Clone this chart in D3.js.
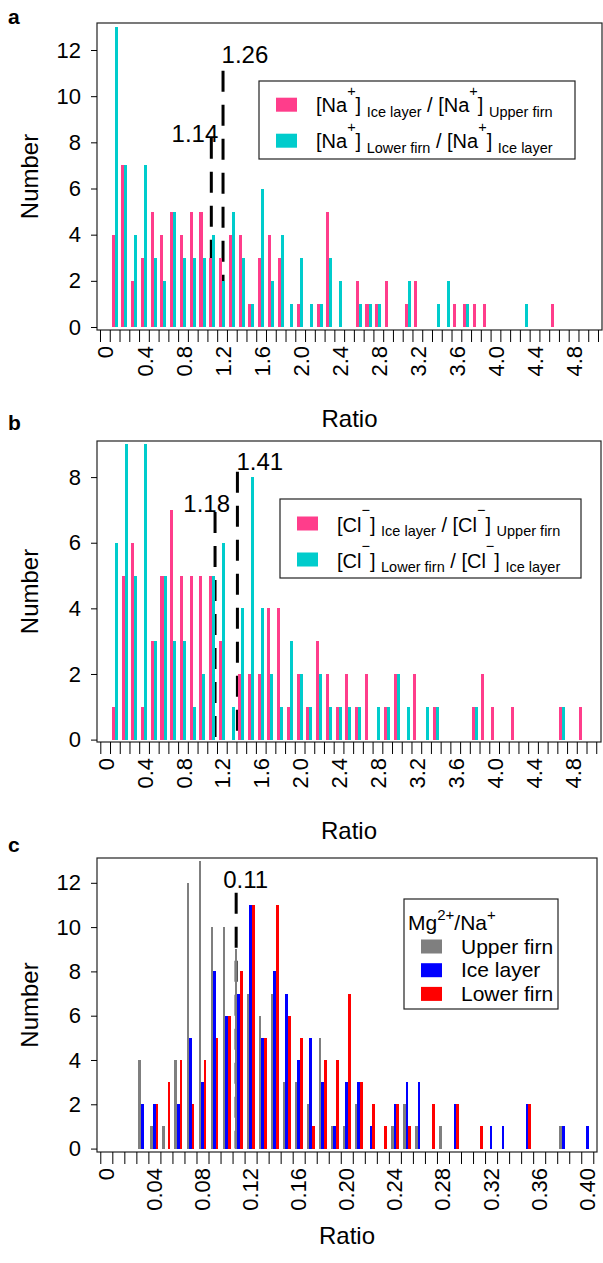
<!DOCTYPE html>
<html>
<head>
<meta charset="utf-8">
<script src="https://cdn.jsdelivr.net/npm/d3@7"></script>
<style>
  body { margin: 0; background: #fff; }
  svg text { font-family: "Liberation Sans", Arial, Helvetica, sans-serif; white-space: pre; }
</style>
</head>
<body>
<svg id="fig" width="603" height="1263"></svg>
<script>
// ---------- data ----------
// a: [Na+] ratios, 0.1 wide bins, first bin starts at 0.1
const naBinStart = 0.1
const naBinWidth = 0.1
const naIceUpper = [4, 7, 2, 3, 5, 4, 5, 4, 5, 5, 3, 3, 4, 4, 1, 3, 4, 3, 0, 1, 0, 1, 5, 0, 0, 2, 1, 1, 2, 0,
                    1, 2, 0, 0, 0, 1, 1, 1, 1, 0, 0, 0, 0, 0, 0, 1]
const naLowerIce = [13, 7, 4, 7, 3, 2, 5, 3, 3, 3, 4, 2, 5, 3, 1, 6, 2, 4, 1, 3, 1, 1, 3, 2, 0, 1, 1, 1, 0, 0,
                    2, 0, 0, 1, 2, 0, 1, 0, 0, 0, 0, 0, 1, 0, 0, 0]
const naMeans = [1.14, 1.26]

// b: [Cl-] ratios
const clBinStart = 0.1
const clBinWidth = 0.1
const clIceUpper = [1, 5, 6, 1, 3, 5, 7, 5, 5, 5, 5, 3, 0, 2, 2, 2, 4, 4, 1, 2, 1, 3, 2, 1, 2, 1, 2, 0, 1, 2,
                    0, 2, 0, 1, 0, 0, 0, 1, 2, 1, 0, 1, 0, 0, 0, 0, 1, 0, 1]
const clLowerIce = [6, 9, 5, 9, 3, 5, 3, 3, 1, 2, 5, 6, 1, 4, 8, 4, 2, 1, 3, 2, 1, 2, 1, 1, 1, 1, 0, 1, 1, 2,
                    1, 0, 1, 1, 0, 0, 0, 1, 0, 0, 0, 0, 0, 0, 0, 0, 1, 0, 0]
const clMeans = [1.18, 1.41]

// c: Mg2+/Na+ ratios, 0.01 wide bins from 0
const mgBinStart = 0
const mgBinWidth = 0.01
const mgUpper = [0, 0, 0, 4, 1, 1, 4, 12, 13, 10, 10, 9, 7, 6, 7, 3, 3, 2, 5, 1, 1, 2, 0, 0, 1, 2, 1, 0, 1, 0,
                 0, 0, 0, 0, 0, 0, 0, 0, 1, 0, 0]
const mgIce   = [0, 0, 0, 2, 2, 0, 2, 5, 3, 8, 6, 7, 11, 5, 8, 7, 4, 5, 3, 1, 3, 3, 1, 0, 2, 3, 3, 0, 0, 2,
                 0, 0, 1, 1, 0, 2, 0, 0, 1, 0, 1]
const mgLower = [0, 0, 0, 0, 2, 3, 4, 2, 4, 5, 6, 8, 11, 5, 11, 6, 5, 1, 4, 4, 7, 3, 2, 1, 2, 1, 0, 2, 0, 2,
                 0, 1, 0, 0, 0, 2, 0, 0, 0, 0, 0]
const mgMeans = [0.113]

// tick labels
const ratioLabelsAB = [0, 0.4, 0.8, 1.2, 1.6, 2.0, 2.4, 2.8, 3.2, 3.6, 4.0, 4.4, 4.8]
const ratioLabelsC = [0, 0.04, 0.08, 0.12, 0.16, 0.20, 0.24, 0.28, 0.32, 0.36, 0.40]
const countTicksA = [0, 2, 4, 6, 8, 10, 12]
const countTicksB = [0, 2, 4, 6, 8]
const countTicksC = [0, 2, 4, 6, 8, 10, 12]

// legend entries: [text, "sup" | "sub" | undefined]
const naLegend = [
    [["[Na"], ["+", "sup"], ["] "], ["Ice layer", "sub"], [" / [Na"], ["+", "sup"], ["] "], ["Upper firn", "sub"]],
    [["[Na"], ["+", "sup"], ["] "], ["Lower firn", "sub"], [" / [Na"], ["+", "sup"], ["] "], ["Ice layer", "sub"]]
]
const clLegend = [
    [["[Cl"], ["\u2212", "sup"], ["] "], ["Ice layer", "sub"], [" / [Cl"], ["\u2212", "sup"], ["] "], ["Upper firn", "sub"]],
    [["[Cl"], ["\u2212", "sup"], ["] "], ["Lower firn", "sub"], [" / [Cl"], ["\u2212", "sup"], ["] "], ["Ice layer", "sub"]]
]
const mgTitle = [["Mg"], ["2+", "sup"], ["/Na"], ["+", "sup"]]
const mgNames = ["Upper firn", "Ice layer", "Lower firn"]

const pink = "#ff3d8b"
const cyan = "#00cccc"

// ---------- drawing ----------
const svg = d3.select("#fig")

const richText = (sel, parts, size, subSize, supShift, subShift) => {
    let shift = 0
    parts.forEach(([t, kind]) => {
        const target = kind == "sup" ? supShift : kind == "sub" ? subShift : 0
        sel.append("tspan")
            .attr("dy", target - shift)
            .attr("font-size", kind ? subSize : size)
            .text(t)
        shift = target
    })
}

const panel = p => {
    const x = d3.scaleLinear().domain(p.xDomain).range([p.left, p.right])
    const y = d3.scaleLinear().domain(p.yDomain).range([p.bottom, p.top])
    const g = svg.append("g")
    const binPx = x(p.binWidth) - x(0)
    const bw = binPx * p.barFrac
    const n = p.series.length

    // dashed mean lines (behind bars)
    g.append("g")
        .selectAll("line")
        .data(p.means)
        .join("line")
        .attr("x1", (d, i) => x(d)).attr("x2", (d, i) => x(d))
        .attr("y1", (d, i) => y(p.meanStyle[i].top)).attr("y2", y(0))
        .attr("stroke", "#000")
        .attr("stroke-width", 3)
        .attr("stroke-dasharray", "21,13")

    // bars
    p.series.forEach((s, si) => {
        g.append("g")
            .attr("fill", s.color)
            .attr("shape-rendering", "crispEdges")
            .selectAll("rect")
            .data(s.counts.map((c, i) => ({ c, mid: p.binStart + (i + 0.5) * p.binWidth })).filter(d => d.c > 0))
            .join("rect")
            .attr("x", d => x(d.mid) + (si - n / 2) * bw)
            .attr("width", bw)
            .attr("y", d => y(d.c))
            .attr("height", d => y(0) - y(d.c))
    })

    // frame
    g.append("rect")
        .attr("x", p.left).attr("y", p.top)
        .attr("width", p.right - p.left).attr("height", p.bottom - p.top)
        .attr("fill", "none").attr("stroke", "#222").attr("stroke-width", 1.2)

    // y axis
    const ya = g.append("g")
        .attr("transform", `translate(${p.left},0)`)
        .call(d3.axisLeft(y).tickValues(p.yTicks).tickSize(6).tickPadding(10))
    ya.select(".domain").remove()
    ya.selectAll("text").attr("font-size", 22).attr("fill", "#000")

    // x axis: minor ticks + rotated labels
    const xa = g.append("g")
        .attr("transform", `translate(0,${p.bottom})`)
        .call(d3.axisBottom(x).tickValues(p.xMinor).tickSize(12).tickFormat(""))
    xa.select(".domain").remove()
    const xl = g.append("g")
        .attr("transform", `translate(0,${p.bottom})`)
        .call(d3.axisBottom(x).tickValues(p.xLabels).tickSize(0).tickFormat(p.xFormat))
    xl.select(".domain").remove()
    xl.selectAll("text")
        .attr("font-size", 22)
        .attr("fill", "#000")
        .attr("transform", "rotate(-90)")
        .attr("text-anchor", "end")
        .attr("x", -16)
        .attr("y", 0)
        .attr("dy", "0.59em")

    // axis titles
    g.append("text")
        .attr("transform", `translate(38,${(p.top + p.bottom) / 2}) rotate(-90)`)
        .attr("text-anchor", "middle")
        .attr("font-size", 24)
        .text("Number")
    g.append("text")
        .attr("x", (p.left + p.right) / 2)
        .attr("y", p.bottom + p.titleGap)
        .attr("text-anchor", "middle")
        .attr("font-size", 24)
        .text("Ratio")
    g.append("text")
        .attr("x", 8).attr("y", p.top + p.letterDy)
        .attr("font-size", 21).attr("font-weight", "bold")
        .text(p.letter)

    // mean labels
    g.append("g")
        .selectAll("text")
        .data(p.means)
        .join("text")
        .attr("x", (d, i) => x(d) + p.meanStyle[i].dx)
        .attr("y", (d, i) => y(p.meanStyle[i].top) + p.meanStyle[i].dy)
        .attr("text-anchor", (d, i) => p.meanStyle[i].anchor)
        .attr("font-size", 24)
        .text(d => d3.format(".2f")(d))

    // legend
    const L = p.legend
    const lg = g.append("g").attr("transform", `translate(${L.x},${L.y})`)
    lg.append("rect")
        .attr("width", L.w).attr("height", L.h)
        .attr("fill", "#fff").attr("stroke", "#222").attr("stroke-width", 1.2)
    if (L.title) {
        const t = lg.append("text").attr("x", L.titleX).attr("y", L.titleY)
        richText(t, L.title, L.size, L.supSize, L.supShift, 0)
    }
    p.series.forEach((s, si) => {
        const by = L.row0 + si * L.rowStep
        lg.append("rect")
            .attr("x", L.swX).attr("y", by - L.swH - L.swLift)
            .attr("width", L.swW).attr("height", L.swH)
            .attr("fill", s.color)
        const t = lg.append("text").attr("x", L.textX).attr("y", by)
        if (typeof s.label == "string") t.attr("font-size", L.size).text(s.label)
        else richText(t, s.label, L.size, L.subSize, L.supShift, L.subShift)
    })
}

const abMinor = d3.range(0, 52).map(i => i / 10)
const cMinor = d3.range(0, 42).map(i => i / 100)

panel({
    letter: "a", letterDy: 1,
    left: 97, right: 602, top: 23, bottom: 330,
    xDomain: [-0.0307, 5.141], yDomain: [-0.13, 13.17],
    binStart: naBinStart, binWidth: naBinWidth, barFrac: 0.31,
    series: [
        { counts: naIceUpper, color: pink, label: naLegend[0] },
        { counts: naLowerIce, color: cyan, label: naLegend[1] }
    ],
    xMinor: abMinor, xLabels: ratioLabelsAB, xFormat: d => d == 0 ? "0" : d3.format(".1f")(d),
    yTicks: countTicksA, titleGap: 97,
    means: naMeans,
    meanStyle: [
        { top: 8.2, dx: 7, dy: 4, anchor: "end" },
        { top: 11.1, dx: -1.5, dy: -8, anchor: "start" }
    ],
    legend: {
        x: 259, y: 81, w: 316, h: 78, swX: 17, swW: 21, swH: 14, swLift: 0,
        textX: 57, row0: 30.7, rowStep: 36, size: 20, subSize: 14.5, supShift: -16, subShift: 5
    }
})

panel({
    letter: "b", letterDy: -11,
    left: 97, right: 601, top: 441, bottom: 742,
    xDomain: [-0.034, 5.149], yDomain: [-0.073, 9.1],
    binStart: clBinStart, binWidth: clBinWidth, barFrac: 0.31,
    series: [
        { counts: clIceUpper, color: pink, label: clLegend[0] },
        { counts: clLowerIce, color: cyan, label: clLegend[1] }
    ],
    xMinor: abMinor, xLabels: ratioLabelsAB, xFormat: d => d == 0 ? "0" : d3.format(".1f")(d),
    yTicks: countTicksB, titleGap: 97,
    means: clMeans,
    meanStyle: [
        { top: 6.94, dx: 15, dy: 0, anchor: "end" },
        { top: 8.16, dx: -1, dy: -2, anchor: "start" }
    ],
    legend: {
        x: 280, y: 499, w: 301, h: 79, swX: 17, swW: 21, swH: 14, swLift: 1.5,
        textX: 57, row0: 33, rowStep: 36, size: 20, subSize: 14.5, supShift: -17, subShift: 4
    }
})

panel({
    letter: "c", letterDy: -6,
    left: 97, right: 597, top: 858, bottom: 1152,
    xDomain: [-0.00274, 0.4131], yDomain: [-0.154, 13.12],
    binStart: mgBinStart, binWidth: mgBinWidth, barFrac: 0.22,
    series: [
        { counts: mgUpper, color: "#7f7f7f", label: mgNames[0] },
        { counts: mgIce, color: "#0000ff", label: mgNames[1] },
        { counts: mgLower, color: "#ff0000", label: mgNames[2] }
    ],
    xMinor: cMinor, xLabels: ratioLabelsC, xFormat: d => d == 0 ? "0" : d3.format(".2f")(d),
    yTicks: countTicksC, titleGap: 92,
    means: mgMeans,
    meanStyle: [
        { top: 11.55, dx: -13, dy: -5, anchor: "start" }
    ],
    legend: {
        x: 404, y: 899, w: 154, h: 110, swX: 17, swW: 21, swH: 14, swLift: 0,
        textX: 57, row0: 54.5, rowStep: 23.7, size: 21, supSize: 15, supShift: -10,
        title: mgTitle, titleX: 4, titleY: 30.5
    }
})
</script>
</body>
</html>
